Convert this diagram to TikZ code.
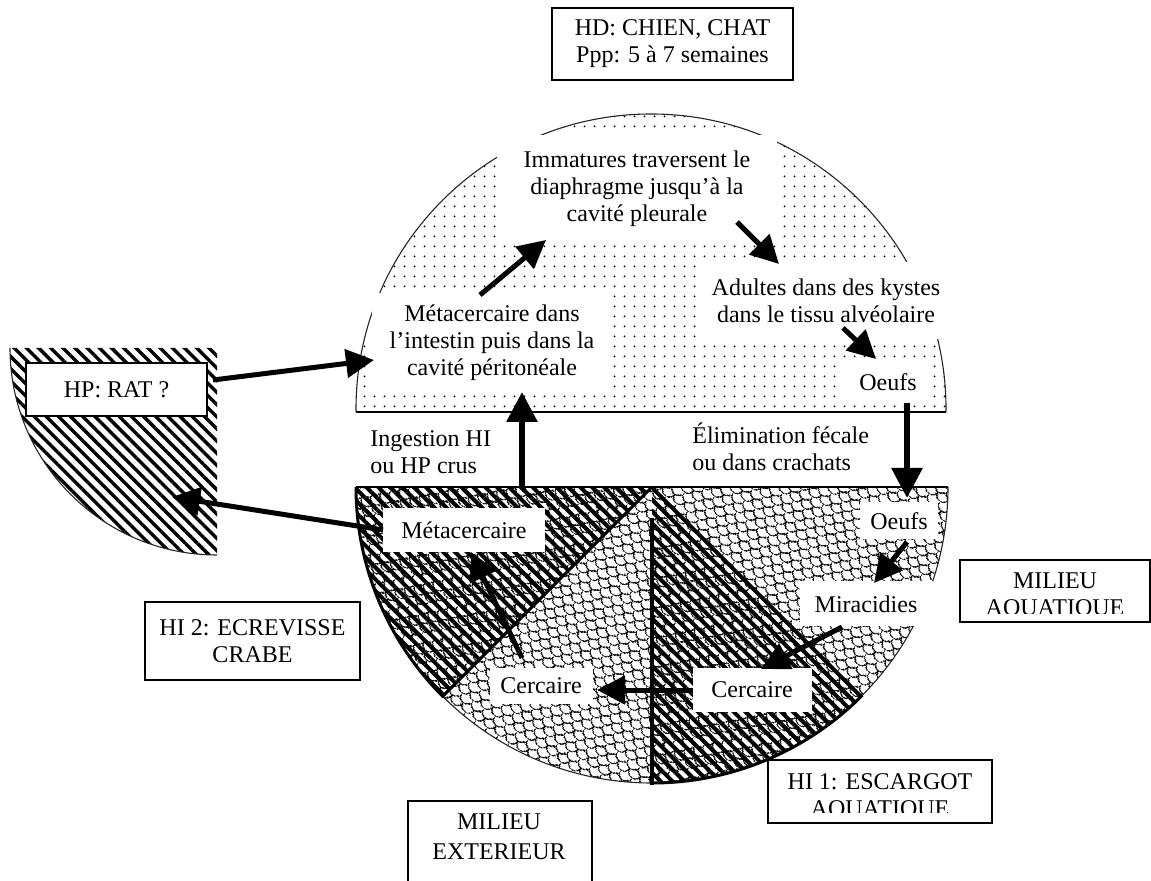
\documentclass[tikz,border=0pt]{standalone}
\usepackage{fontspec}
\setmainfont{Liberation Serif}
\usetikzlibrary{arrows.meta,patterns.meta}

% sparse dot grid for the definitive host
\tikzdeclarepattern{
  name=dotgrid, type=colored,
  bottom left={(0pt,0pt)}, top right={(5pt,5pt)},
  tile size={(5pt,5pt)},
  code={\fill[black] (2.5pt,2.5pt) circle [radius=0.55pt];}
}
% fish-scale texture for the outside world
\tikzdeclarepattern{
  name=scales, type=colored,
  bottom left={(0pt,0pt)}, top right={(7pt,7pt)},
  tile size={(7pt,7pt)},
  tile transformation={rotate=-35},
  code={\draw[black,line width=0.6pt]
      (0pt,7pt) arc[start angle=180,end angle=360,radius=3.5pt]
      (-3.5pt,3.5pt) arc[start angle=180,end angle=360,radius=3.5pt]
      (3.5pt,3.5pt) arc[start angle=180,end angle=360,radius=3.5pt];}
}

\begin{document}
\begin{tikzpicture}[x=0.5pt,y=-0.5pt,
  txt/.style={font=\fontsize{12}{13.5}\selectfont, align=center, inner sep=0pt},
  wbox/.style={txt, fill=white},
  frame/.style={txt, draw, line width=0.9pt},
  arr/.style={line width=2.5pt, -{Triangle[length=14pt,width=14pt]}},
  bigarr/.style={line width=3pt, -{Triangle[length=15pt,width=15pt]}},
  thinline/.style={line width=0.55pt, black!85},
  heavyhatch/.style={pattern={Lines[angle=-45,distance=4.2pt,line width=2pt]}},
  lighthatch/.style={pattern={Lines[angle=-45,distance=4.3pt,line width=1.7pt]}},
]
\clip (0,0) rectangle (1151,881);

% ---- definitive host: dotted dome
\begin{scope}
  \clip (0,0) rectangle (1151,412);
  \fill[pattern=dotgrid] (651,409) circle [radius=147.5pt];
  \draw[thinline] (651,409) circle [radius=147.5pt];
\end{scope}
\draw[line width=0.8pt] (356,412) -- (946,412);

% ---- outside world: lower half disc with two host sectors
\coordinate (c) at (652,487);
\fill[pattern=scales] (356,487) arc[start angle=180,end angle=360,radius=148pt] -- cycle;
\fill[heavyhatch] (c) -- (356,487) arc[start angle=180,end angle=225,radius=148pt] -- cycle;
\fill[heavyhatch] (c) -- (652,783) arc[start angle=270,end angle=315,radius=148pt] -- cycle;
\draw[thinline] (356,487) arc[start angle=180,end angle=360,radius=148pt];
\draw[line width=0.8pt] (356,487) -- (948,487);
\draw[line width=1.5pt] (356,487) arc[start angle=180,end angle=225,radius=148pt] -- (c);
\draw[line width=1.5pt] (c) -- ++(-45:148pt) arc[start angle=-45,end angle=-90,radius=148pt];
\draw[line width=2pt] (652,518) -- (652,785);

% ---- paratenic host: hatched quarter disc
\fill[lighthatch] (217,348) -- (10,348) arc[start angle=180,end angle=270,radius=103.5pt] -- cycle;
\draw[thinline] (10,348) arc[start angle=180,end angle=270,radius=103.5pt];

% ---- stage labels
\node[wbox, minimum width=140pt, minimum height=54pt] (imm) at (637,189)
  {Immatures traversent le\\diaphragme jusqu’à la\\cavité pleurale};
\node[wbox, minimum width=120pt, minimum height=50pt] (meta1) at (492,343)
  {Métacercaire dans\\l’intestin puis dans la\\cavité péritonéale};
\node[wbox, minimum width=123.5pt, minimum height=38.5pt] (adult) at (826,301)
  {Adultes dans des kystes\\dans le tissu alvéolaire};
\node[wbox, minimum width=45pt, minimum height=19.5pt] (oeufA) at (888,382) {Oeufs};
\node[txt, align=left, anchor=west] (ing) at (370,452) {Ingestion HI\\ou HP crus};
\node[txt, align=left, anchor=west] (elim) at (692,447) {Élimination fécale\\ou dans crachats};
\node[wbox, minimum width=81pt, minimum height=22pt] (meta2) at (464,530) {Métacercaire};
\node[wbox, minimum width=51.5pt, minimum height=18pt] (cercL) at (541,686) {Cercaire};
\node[wbox, minimum width=59.5pt, minimum height=22pt] (cercR) at (752,690) {Cercaire};
\node[wbox, minimum width=66.5pt, minimum height=22.5pt] (mira) at (866,604) {Miracidies};
\node[wbox, minimum width=39pt, minimum height=18.5pt] (oeufB) at (899,521) {Oeufs};

% ---- framed host / environment labels
\node[frame, fill=white, minimum width=120.5pt, minimum height=36pt] (hd) at (672.5,44)
  {HD: CHIEN, CHAT\\Ppp: 5 à 7 semaines};
\node[frame, fill=white, minimum width=90.5pt, minimum height=26.5pt] (hp) at (116.5,389.5) {HP: RAT ?};
\node[frame, minimum width=107.5pt, minimum height=39pt] (hi2) at (252.5,641)
  {HI 2: ECREVISSE\\CRABE};
\node[frame, minimum width=92pt, minimum height=45pt, anchor=north] (ext) at (500,800) {};
\node[txt] (extT) at (499,837) {MILIEU\\[1.5pt]EXTERIEUR};
\node[frame, minimum width=95pt, minimum height=31pt] (aqua) at (1055,591) {};
\begin{scope}
  \clip (960,560) rectangle (1150,614);
  \node[txt] (aquaT) at (1055,596) {MILIEU\\AQUATIQUE};
\end{scope}
\node[frame, minimum width=112pt, minimum height=31.5pt] (hi1) at (880,791.5) {};
\begin{scope}
  \clip (768,760) rectangle (992,812);
  \node[txt] (hi1T) at (880,797) {HI 1: ESCARGOT\\AQUATIQUE};
\end{scope}

% ---- life-cycle arrows
\coordinate (hpOut) at (213,380);   \coordinate (metaIn) at (374,360);
\coordinate (metaOut) at (383,530); \coordinate (ratIn) at (172,497);
\coordinate (m1Out) at (480,295);   \coordinate (immIn) at (546,240);
\coordinate (immOut) at (737,222);  \coordinate (adIn) at (779,264);
\coordinate (adOut) at (843,328);   \coordinate (oAIn) at (876,359);
\coordinate (oAOut) at (907,403);   \coordinate (oBIn) at (907,498);
\coordinate (oBOut) at (907,542);   \coordinate (miIn) at (874,583);
\coordinate (miOut) at (842,627);   \coordinate (crIn) at (761,669);
\coordinate (crOut) at (693,690);   \coordinate (clIn) at (597,690);
\coordinate (clOut) at (522,658);   \coordinate (m2In) at (471,552);
\coordinate (ingOut) at (522,487);  \coordinate (m1In) at (522,392);

\draw[arr] (hpOut) -- (metaIn);
\draw[arr] (metaOut) -- (ratIn);
\draw[arr] (m1Out) -- (immIn);
\draw[arr] (immOut) -- (adIn);
\draw[arr] (adOut) -- (oAIn);
\draw[bigarr] (oAOut) -- (oBIn);
\draw[arr] (oBOut) -- (miIn);
\draw[arr] (miOut) -- (crIn);
\draw[arr] (crOut) -- (clIn);
\draw[arr] (clOut) -- (m2In);
\draw[bigarr] (ingOut) -- (m1In);
\end{tikzpicture}
\end{document}
